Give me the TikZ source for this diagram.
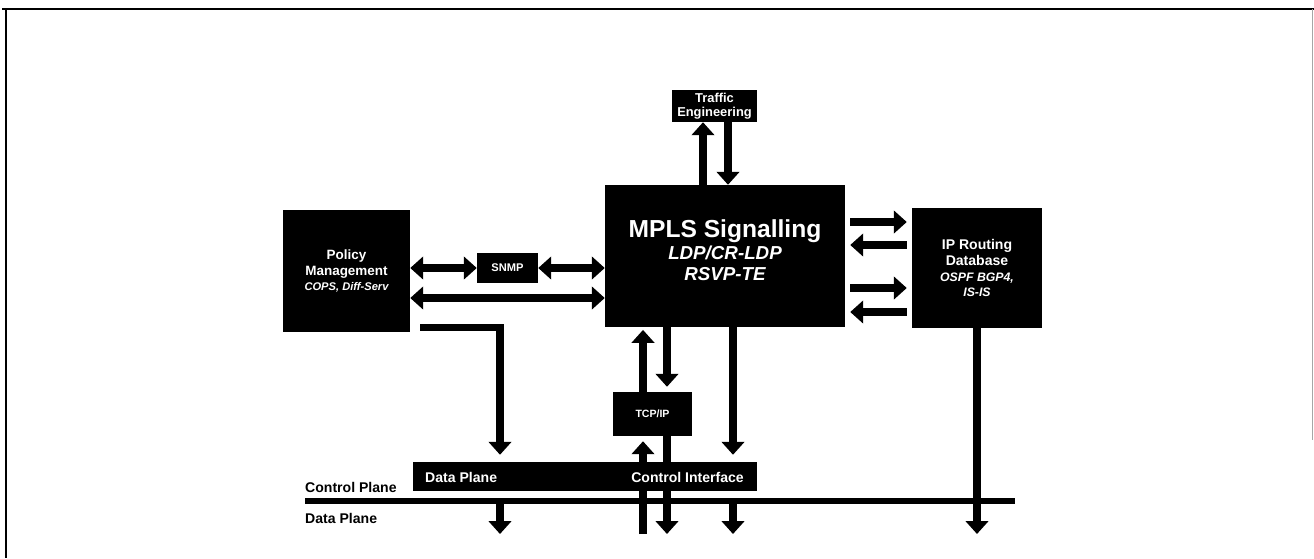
\documentclass[tikz,border=0pt]{standalone}
\usepackage{fontspec}
\setmainfont{Liberation Sans}
\usetikzlibrary{arrows.meta,positioning}

\begin{document}
\begin{tikzpicture}[x=0.3mm, y=-0.3mm,
    every node/.style={font=\bfseries\fontsize{12}{14}\selectfont},
    blk/.style={fill=black, text=white, inner sep=0pt, align=center},
    wtext/.style={text=white, align=center, inner sep=0pt},
    bigarrow/.style={line width=6pt, -{Triangle[width=19pt,length=11pt]}},
    dblarrow/.style={line width=6pt, {Triangle[width=19pt,length=11pt]}-{Triangle[width=19pt,length=11pt]}}]

        \useasboundingbox (0,0) rectangle (1314,558);

        % page frame
        \draw[line width=2.5pt] (2,9) -- (1314,9);
        \draw[line width=1.6pt] (6,9) -- (6,558);
        \draw[black!35,line width=0.8pt] (1312,9) -- (1312,440);

        % blocks
        \node[blk, minimum width=25.5mm, minimum height=9.6mm,
              font=\bfseries\fontsize{11}{12}\selectfont] (te) at (714.5,106) {Traffic\\Engineering};
        \node[blk, minimum width=72mm, minimum height=42.6mm] (mpls) at (725,256) {};
        \node[wtext, font=\bfseries\itshape\fontsize{16}{18}\selectfont] (mplstext) at (725,250)
          {{\upshape\fontsize{21}{24}\selectfont MPLS Signalling}\\[1pt] LDP/CR-LDP\\ RSVP-TE};
        \node[blk, minimum width=38.1mm, minimum height=36.6mm,
              font=\bfseries\fontsize{11.5}{13.5}\selectfont] (policy) at (346.5,271)
          {Policy\\Management\\{\itshape\fontsize{9.5}{12}\selectfont COPS, Diff-Serv}};
        \node[blk, minimum width=18.3mm, minimum height=9mm,
              font=\bfseries\fontsize{9.5}{11}\selectfont] (snmp) at (507.5,268) {SNMP};
        \node[blk, minimum width=39mm, minimum height=36mm,
              font=\bfseries\fontsize{12}{13.6}\selectfont] (ip) at (977,268)
          {IP Routing\\Database\\{\itshape\fontsize{10.5}{13.6}\selectfont OSPF BGP4,}\\{\itshape\fontsize{10.5}{12}\selectfont IS-IS}};
        \node[blk, minimum width=23.7mm, minimum height=13.2mm,
              font=\bfseries\fontsize{9}{11}\selectfont] (tcp) at (652.5,414) {TCP/IP};
        \node[blk, minimum width=103.2mm, minimum height=8.7mm] (bar) at (585,476.5) {};

        % control / data plane split
        \coordinate (cpl) at (305,501);
        \coordinate (cpr) at (1015,501);
        \coordinate (dpend) at (0,534);
        \draw[line width=4.5pt] (cpl) -- (cpr);
        \node[anchor=west, inner sep=0pt] (cplabel) at (305,487) {Control Plane};
        \node[anchor=west, inner sep=0pt] (dplabel) at (305,518) {Data Plane};

        % traffic engineering <-> signalling
        \draw[bigarrow] ([xshift=-3.45mm]te.south |- mpls.north) -- ([xshift=-3.45mm]te.south);
        \draw[bigarrow] ([xshift=4.05mm]te.south) -- ([xshift=4.05mm]te.south |- mpls.north);

        % policy <-> snmp <-> signalling
        \draw[dblarrow] (snmp.west -| policy.east) -- (snmp.west);
        \draw[dblarrow] (snmp.east) -- (snmp.east -| mpls.west);
        \draw[dblarrow] ([yshift=-8.1mm]policy.east) -- ([yshift=-8.1mm]policy.east -| mpls.west);

        % signalling <-> routing database
        \foreach \dy in {10.2mm,-9.6mm}
          \draw[bigarrow, shorten <=1.5mm, shorten >=1.5mm]
            ([yshift=\dy]mpls.east) -- ([yshift=\dy]mpls.east -| ip.west);
        \foreach \dy in {3.3mm,-16.8mm}
          \draw[bigarrow, shorten <=1.5mm, shorten >=1.5mm]
            ([yshift=\dy]mpls.east -| ip.west) -- ([yshift=\dy]mpls.east);

        % signalling <-> tcp/ip <-> data plane
        \draw[bigarrow, shorten >=0.8mm] ([xshift=-2.85mm]tcp.north) -- ([xshift=-2.85mm]tcp.north |- mpls.south);
        \draw[bigarrow, shorten >=1.5mm] ([xshift=4.35mm]tcp.north |- mpls.south) -- ([xshift=4.35mm]tcp.north);
        \draw[bigarrow, shorten >=1.5mm] ([xshift=-2.85mm]tcp.south |- dpend) -- ([xshift=-2.85mm]tcp.south);
        \draw[bigarrow] ([xshift=4.35mm]tcp.south) -- ([xshift=4.35mm]tcp.south |- dpend);

        % signalling -> control interface
        \draw[bigarrow, shorten >=2.1mm] ([xshift=2.4mm]mpls.south) -- ([xshift=2.4mm]mpls.south |- bar.north);
        \draw[bigarrow] ([xshift=2.4mm]mpls.south |- cpl) -- ([xshift=2.4mm]mpls.south |- dpend);

        % policy -> data plane
        \draw[bigarrow, shorten >=2.1mm] ([xshift=3mm,yshift=1.3mm]policy.south east) -| ([xshift=-25.5mm]bar.north);
        \draw[bigarrow] ([xshift=-25.5mm]bar.south |- cpl) -- ([xshift=-25.5mm]bar.south |- dpend);

        % routing database down to data plane
        \draw[bigarrow] (ip.south) -- (ip.south |- dpend);

        % bar labels on top of the arrows
        \node[wtext, anchor=west] (bardp) at (425,477) {Data Plane};
        \node[wtext, anchor=east] (barci) at (744,477) {Control Interface};
\end{tikzpicture}
\end{document}
